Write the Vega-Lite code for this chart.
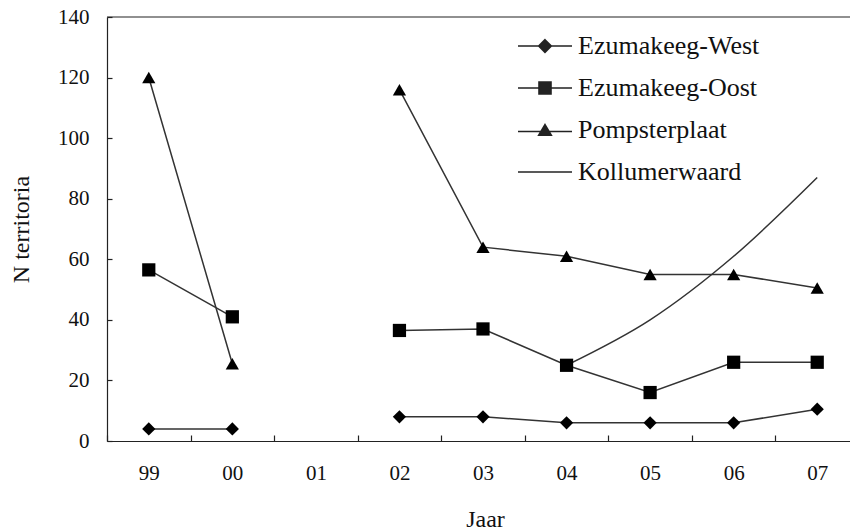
{
  "$schema": "https://vega.github.io/schema/vega-lite/v6.json",
  "width": 743,
  "height": 424,
  "autosize": {"type": "none"},
  "padding": {"left": 107, "top": 17, "right": 0, "bottom": 91},
  "background": "white",
  "config": {
    "view": {"stroke": null},
    "font": "Liberation Serif",
    "axis": {
      "labelFont": "Liberation Serif",
      "titleFont": "Liberation Serif",
      "labelColor": "#111",
      "titleColor": "#111",
      "domainColor": "#222",
      "tickColor": "#222",
      "domainWidth": 1.2,
      "tickWidth": 1.2,
      "grid": false,
      "titleFontWeight": "normal"
    },
    "legend": {"labelFont": "Liberation Serif"}
  },
  "data": {
    "values": [
      {"jaar": "99", "serie": "Ezumakeeg-West", "n": 4},
      {"jaar": "00", "serie": "Ezumakeeg-West", "n": 4},
      {"jaar": "01", "serie": "Ezumakeeg-West", "n": null},
      {"jaar": "02", "serie": "Ezumakeeg-West", "n": 8},
      {"jaar": "03", "serie": "Ezumakeeg-West", "n": 8},
      {"jaar": "04", "serie": "Ezumakeeg-West", "n": 6},
      {"jaar": "05", "serie": "Ezumakeeg-West", "n": 6},
      {"jaar": "06", "serie": "Ezumakeeg-West", "n": 6},
      {"jaar": "07", "serie": "Ezumakeeg-West", "n": 10.5},
      {"jaar": "99", "serie": "Ezumakeeg-Oost", "n": 56.5},
      {"jaar": "00", "serie": "Ezumakeeg-Oost", "n": 41},
      {"jaar": "01", "serie": "Ezumakeeg-Oost", "n": null},
      {"jaar": "02", "serie": "Ezumakeeg-Oost", "n": 36.5},
      {"jaar": "03", "serie": "Ezumakeeg-Oost", "n": 37},
      {"jaar": "04", "serie": "Ezumakeeg-Oost", "n": 25},
      {"jaar": "05", "serie": "Ezumakeeg-Oost", "n": 16},
      {"jaar": "06", "serie": "Ezumakeeg-Oost", "n": 26},
      {"jaar": "07", "serie": "Ezumakeeg-Oost", "n": 26},
      {"jaar": "99", "serie": "Pompsterplaat", "n": 120},
      {"jaar": "00", "serie": "Pompsterplaat", "n": 25.5},
      {"jaar": "01", "serie": "Pompsterplaat", "n": null},
      {"jaar": "02", "serie": "Pompsterplaat", "n": 116},
      {"jaar": "03", "serie": "Pompsterplaat", "n": 64},
      {"jaar": "04", "serie": "Pompsterplaat", "n": 61},
      {"jaar": "05", "serie": "Pompsterplaat", "n": 55},
      {"jaar": "06", "serie": "Pompsterplaat", "n": 55},
      {"jaar": "07", "serie": "Pompsterplaat", "n": 50.5},
      {"jaar": "04", "serie": "Kollumerwaard", "n": 25},
      {"jaar": "05", "serie": "Kollumerwaard", "n": 40},
      {"jaar": "06", "serie": "Kollumerwaard", "n": 61},
      {"jaar": "07", "serie": "Kollumerwaard", "n": 87}
    ]
  },
  "layer": [
    {
      "data": {"values": [{}]},
      "mark": {"type": "rule", "color": "#222", "strokeWidth": 1.2},
      "encoding": {"y": {"datum": 140, "type": "quantitative"}}
    },
    {
      "transform": [{"filter": "datum.serie !== 'Kollumerwaard'"}],
      "mark": {"type": "line", "color": "#333", "strokeWidth": 1.5, "invalid": "break-paths-show-domains"},
      "encoding": {
        "x": {
          "field": "jaar", "type": "ordinal",
          "scale": {"type": "band", "domain": ["99", "00", "01", "02", "03", "04", "05", "06", "07"], "range": [0, 752], "paddingInner": 0, "paddingOuter": 0},
          "axis": {
            "title": "Jaar", "labelAngle": 0, "labelFontSize": 21, "titleFontSize": 24,
            "labelFont": "Liberation Serif", "titleFont": "Liberation Serif",
            "tickBand": "extent", "tickSize": -6, "labelPadding": 27,
            "titleX": 378, "titleY": 78, "titleBaseline": "middle", "titleAlign": "center"
          }
        },
        "y": {
          "field": "n", "type": "quantitative",
          "scale": {"domain": [0, 140], "nice": false, "zero": true},
          "axis": {
            "title": "N territoria", "values": [0, 20, 40, 60, 80, 100, 120, 140],
            "labelFont": "Liberation Serif", "titleFont": "Liberation Serif",
            "labelFontSize": 21, "titleFontSize": 24, "tickSize": -5, "labelPadding": 23,
            "titleX": -86, "titleY": 212, "titleAngle": -90, "titleAlign": "center", "titleBaseline": "middle"
          }
        },
        "detail": {"field": "serie"}
      }
    },
    {
      "transform": [{"filter": "datum.serie === 'Kollumerwaard'"}],
      "mark": {"type": "line", "color": "#333", "strokeWidth": 1.5, "interpolate": "monotone"},
      "encoding": {
        "x": {"field": "jaar", "type": "ordinal"},
        "y": {"field": "n", "type": "quantitative"}
      }
    },
    {
      "transform": [{"filter": "datum.serie !== 'Kollumerwaard' && datum.n != null"}],
      "mark": {"type": "point", "filled": true, "color": "black", "opacity": 1, "size": 175},
      "encoding": {
        "x": {"field": "jaar", "type": "ordinal"},
        "y": {"field": "n", "type": "quantitative"},
        "shape": {
          "field": "serie",
          "scale": {"domain": ["Ezumakeeg-West", "Ezumakeeg-Oost", "Pompsterplaat"], "range": ["diamond", "square", "triangle-up"]},
          "legend": null
        }
      }
    },
    {
      "transform": [{"filter": "datum.n != null"}],
      "mark": {"type": "point", "filled": false, "color": "#222", "strokeWidth": 1.6, "opacity": 1, "size": 0},
      "encoding": {
        "x": {"field": "jaar", "type": "ordinal"},
        "y": {"field": "n", "type": "quantitative"},
        "shape": {
          "field": "serie",
          "scale": {
            "domain": ["Ezumakeeg-West", "Ezumakeeg-Oost", "Pompsterplaat", "Kollumerwaard"],
            "range": [
              "M-1.8,0H-0.42M0.42,0H1.8M0,-0.42L0.42,0L0,0.42L-0.42,0ZM0,-0.32L0.32,0L0,0.32L-0.32,0ZM0,-0.22L0.22,0L0,0.22L-0.22,0ZM0,-0.12L0.12,0L0,0.12L-0.12,0ZM0,-0.04L0.04,0L0,0.04L-0.04,0Z",
              "M-1.8,0H-0.4M0.4,0H1.8M-0.4,-0.4H0.4V0.4H-0.4ZM-0.3,-0.3H0.3V0.3H-0.3ZM-0.2,-0.2H0.2V0.2H-0.2ZM-0.1,-0.1H0.1V0.1H-0.1ZM-0.02,-0.02H0.02V0.02H-0.02Z",
              "M-1.8,0.1H-0.3M0.3,0.1H1.8M0,-0.364L0.419,0.342H-0.419ZM0,-0.248L0.315,0.284H-0.315ZM0,-0.131L0.2115,0.226H-0.2115ZM0,-0.015L0.108,0.168H-0.108ZM0,0.082L0.0225,0.12H-0.0225Z",
              "M-1.8,0H1.8"
            ]
          },
          "legend": {
            "title": null, "orient": "none", "legendX": 422, "legendY": 13,
            "symbolSize": 900, "rowPadding": 13, "labelOffset": 17, "padding": 0,
            "labelFont": "Liberation Serif",
            "labelFontSize": 26, "labelColor": "#111", "labelLimit": 400,
            "symbolStrokeColor": "#222", "symbolStrokeWidth": 1.6, "symbolOpacity": 1
          }
        }
      }
    }
  ],
  "resolve": {"scale": {"shape": "independent"}}
}
